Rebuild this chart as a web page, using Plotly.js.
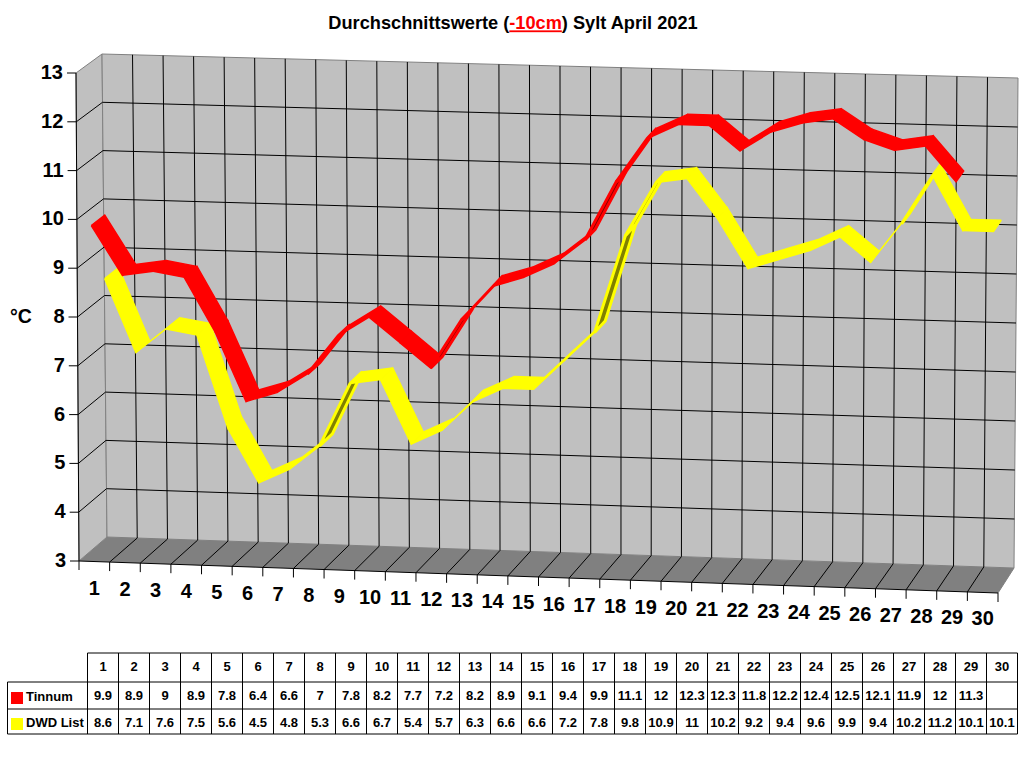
<!DOCTYPE html>
<html><head><meta charset="utf-8">
<script src="https://cdn.plot.ly/plotly-3.0.1.min.js"></script>
<style>html,body{margin:0;padding:0;background:#fff}</style></head>
<body><div id="chart" style="width:1024px;height:768px"></div>
<script>
const days = [1,2,3,4,5,6,7,8,9,10,11,12,13,14,15,16,17,18,19,20,21,22,23,24,25,26,27,28,29,30];
const tinnum = [9.9,8.9,9,8.9,7.8,6.4,6.6,7,7.8,8.2,7.7,7.2,8.2,8.9,9.1,9.4,9.9,11.1,12,12.3,12.3,11.8,12.2,12.4,12.5,12.1,11.9,12,11.3,null];
const dwd = [8.6,7.1,7.6,7.5,5.6,4.5,4.8,5.3,6.6,6.7,5.4,5.7,6.3,6.6,6.6,7.2,7.8,9.8,10.9,11,10.2,9.2,9.4,9.6,9.9,9.4,10.2,11.2,10.1,10.1];
const valueTicks = [3,4,5,6,7,8,9,10,11,12,13];
const FONT = '"Liberation Sans", Arial, sans-serif';

// 3-D box of the chart, as screen corners: [front/back][left/right][bottom/top]
const box = {
  fLb:[79,561], fRb:[998,593], bLb:[107,537], bRb:[1014,568],
  fLt:[76,73],  fRt:[1004,98], bLt:[102,54],  bRt:[1018,78]
};
const mix=(a,b,t)=>[a[0]+(b[0]-a[0])*t,a[1]+(b[1]-a[1])*t];
function P(cat,val,depth){
  const u=cat/days.length, v=(val-3)/10;
  const f=mix(mix(box.fLb,box.fRb,u),mix(box.fLt,box.fRt,u),v);
  const b=mix(mix(box.bLb,box.bRb,u),mix(box.bLt,box.bRt,u),v);
  return mix(f,b,depth);
}
const traces=[];
function poly(pts,fill,line,w){
  traces.push({type:'scatter',mode:'lines',x:pts.map(p=>p[0]),y:pts.map(p=>p[1]),fill:'toself',fillcolor:fill,
    line:{color:line||fill,width:w===undefined?1:w},hoverinfo:'skip',showlegend:false});
}
function lines(segs,color,w){
  const x=[],y=[];
  segs.forEach(s=>{s.forEach(p=>{x.push(p[0]);y.push(p[1]);});x.push(null);y.push(null);});
  traces.push({type:'scatter',mode:'lines',x,y,line:{color,width:w||1},hoverinfo:'skip',showlegend:false});
}
function labels(x,y,text,size,pos,color){
  traces.push({type:'scatter',mode:'text',x,y,text,textposition:pos||'middle center',
    textfont:{family:FONT,size,color:color||'#000',weight:700},hoverinfo:'skip',showlegend:false,cliponaxis:false});
}
const N=days.length;
// walls and floor
poly([P(0,3,0),P(0,13,0),P(0,13,1),P(0,3,1)],'#c0c0c0','#808080',1);
poly([P(0,3,1),P(0,13,1),P(N,13,1),P(N,3,1)],'#c0c0c0','#808080',1);
poly([P(0,3,0),P(0,3,1),P(N,3,1),P(N,3,0)],'#808080','#808080',1);
// grid
const grid=[];
valueTicks.slice(1,-1).forEach(v=>{grid.push([P(0,v,0),P(0,v,1),P(N,v,1)]);});
for(let c=1;c<N;c++){grid.push([P(c,3,1),P(c,13,1)]);}
for(let c=1;c<N;c++){grid.push([P(c,3,0),P(c,3,1)]);}
lines(grid,'#000',1);
// axis lines + ticks
const ax=[[P(0,13,0),P(0,3,0),P(N,3,0)]];
valueTicks.forEach(v=>{const p=P(0,v,0);ax.push([[p[0]-9,p[1]],p]);});
for(let c=0;c<=N;c++){const p=P(c,3,0);ax.push([p,[p[0],p[1]+9]]);}
lines(ax,'#000',1);
// ribbons
function ribbon(vals,d0,d1,col,dark){
  for(let i=0;i<vals.length-1;i++){
    if(vals[i]==null||vals[i+1]==null)continue;
    const a=P(i+.5,vals[i],d0),b=P(i+1.5,vals[i+1],d0),c=P(i+1.5,vals[i+1],d1),d=P(i+.5,vals[i],d1);
    const area=(b[0]-a[0])*(d[1]-a[1])-(b[1]-a[1])*(d[0]-a[0]);
    if(area>0) poly([a,b,c,d,a],dark,col,3);
    else poly([a,b,c,d,a],col,col,1.5);
  }
}
ribbon(dwd,0.45,0.97,'#ffff00','#808000');
ribbon(tinnum,-0.04,0.47,'#ff0000','#800000');
// axis labels
labels(valueTicks.map(v=>P(0,v,0)[0]-13),valueTicks.map(v=>P(0,v,0)[1]+1),valueTicks.map(String),20,'middle left');
labels(days.map((d,i)=>P(i+.5,3,0)[0]),days.map((d,i)=>P(i+.5,3,0)[1]+28),days.map(String),20);
// data table
const tX0=87.5,tCol=31,rowY=[653,682,709,734],tL=7.5;
const tl=[];
tl.push([[tX0,rowY[0]],[tX0+N*tCol,rowY[0]]]);
tl.push([[tL,rowY[1]],[tX0+N*tCol,rowY[1]]]);
tl.push([[tL,rowY[2]],[tX0+N*tCol,rowY[2]]]);
tl.push([[tL,rowY[3]],[tX0+N*tCol,rowY[3]]]);
tl.push([[tL,rowY[1]],[tL,rowY[3]]]);
for(let c=0;c<=N;c++)tl.push([[tX0+c*tCol,rowY[0]],[tX0+c*tCol,rowY[3]]]);
lines(tl,'#000',1);
const colX=days.map((d,i)=>tX0+(i+.5)*tCol);
labels(colX,days.map(()=>668),days.map(String),13);
labels(colX,days.map(()=>697),tinnum.map(v=>v==null?'':String(v)),13);
labels(colX,days.map(()=>724),dwd.map(String),13);
poly([[11,692],[23,692],[23,704],[11,704],[11,692]],'#ff0000','#ff0000',0);
poly([[11,718],[23,718],[23,730],[11,730],[11,718]],'#ffff00','#ffff00',0);
labels([26,26],[698,724],['Tinnum','DWD List'],13,'middle right');

const layout={
  width:1024,height:768,margin:{l:0,r:0,t:0,b:0},paper_bgcolor:'#fff',plot_bgcolor:'#fff',showlegend:false,hovermode:false,
  xaxis:{range:[0,1024],visible:false,fixedrange:true},
  yaxis:{range:[768,0],visible:false,fixedrange:true},
  title:{text:'Durchschnittswerte (<span style="color:#ff0000"><u>-10cm</u></span>) Sylt April 2021',
    font:{family:FONT,size:18.2,color:'#000',weight:700},x:513/1024,xanchor:'center',xref:'paper',y:1-23/768,yanchor:'middle',yref:'paper'},
  annotations:[{text:'<b>°C</b>',x:21,y:316,xref:'x',yref:'y',showarrow:false,font:{family:FONT,size:19.5,color:'#000'}}]
};
Plotly.newPlot('chart',traces,layout,{displayModeBar:false,staticPlot:true});
</script></body></html>
